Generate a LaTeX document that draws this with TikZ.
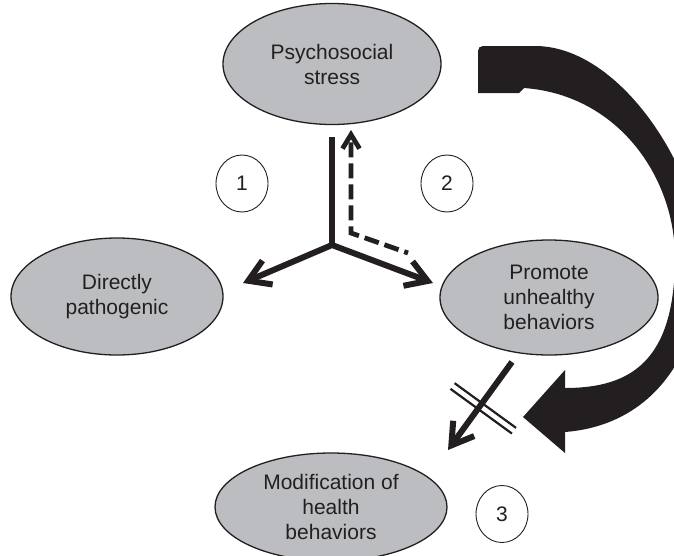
\documentclass[tikz,border=0pt]{standalone}
\usepackage{fontspec}
\setmainfont{Liberation Sans}
\usetikzlibrary{shapes.geometric,arrows.meta,calc}
\definecolor{ink}{HTML}{231F20}
\definecolor{bubble}{HTML}{BCBDC0}
\begin{document}
\begin{tikzpicture}[x=1pt,y=-1pt,
  factor/.style={ellipse,draw=ink,line width=1.3pt,fill=bubble,inner sep=0pt,
    align=center,text=ink,font=\fontsize{21}{25}\selectfont},
  pathnum/.style={ellipse,draw=ink,line width=0.9pt,fill=white,inner sep=0pt,
    minimum width=52pt,minimum height=57pt,text=ink,font=\fontsize{21}{25}\selectfont},
  barb/.tip={Straight Barb[sharp,length=21pt,width=26pt]},
  effect/.style={draw=ink,line width=6pt,-barb},
  stem/.style={draw=ink,line width=6pt},
  feedback/.style={draw=ink,line width=4.8pt,dash pattern=on 15pt off 6pt,
    dash phase=11pt,line join=miter,-{Straight Barb[sharp,length=14pt,width=17pt]}},
  blocker/.style={draw=ink,line width=2.2pt},
]
\useasboundingbox (0,0) rectangle (674,555);
\begin{scope}
\clip (0,0) rectangle (674,555);

% factors
\node[factor,minimum width=218pt,minimum height=121pt] (stress) at (332,64) {Psychosocial\\stress};
\node[factor,minimum width=212pt,minimum height=117pt] (direct) at (117,296.5) {Directly\\pathogenic};
\node[factor,minimum width=218pt,minimum height=115pt] (promote) at (549,297.5) {Promote\\unhealthy\\behaviors};
\node[factor,minimum width=232pt,minimum height=108pt] (modify) at (331,507) {Modification of\\health\\behaviors};

% pathway numbers
\node[pathnum] (n1) at (242,183.5) {1};
\node[pathnum] (n2) at (447,183.5) {2};
\node[pathnum] (n3) at (502,514) {3};

% three-way split below the stress node
\coordinate (top) at (332,137);
\coordinate (hub) at (332,245);
\coordinate (ltip) at (243,283);
\coordinate (rtip) at (433,283);
\draw[stem] (top) -- (hub);
\draw[effect,barb-barb] (ltip) -- (hub) -- (rtip);

% feedback from behaviours back to stress
\coordinate (fstart) at (408,253);
\coordinate (fcorner) at (351,233);
\coordinate (ftip) at (351,130);
\draw[feedback] (fstart) -- (fcorner) -- (ftip);

% blocked link to behaviour change
\coordinate (pstart) at (512,362);
\coordinate (mtip) at (448,450);
\draw[effect] (pstart) -- (mtip);
\coordinate (mid) at ($(pstart)!0.5!(mtip)$);
\coordinate (m1) at ($(mid)!3.5pt!(mtip)$);
\coordinate (m2) at ($(mid)!-3.5pt!(mtip)$);
\draw[blocker] ($(m1)!34pt!-90:(mtip)$) -- ($(m1)!42pt!90:(mtip)$);
\draw[blocker] ($(m2)!34pt!-90:(mtip)$) -- ($(m2)!42pt!90:(mtip)$);

% large curved arrow from stress around to behaviour change
\fill[ink] (524,88) -- (519,93) -- (478,93) -- (478,51)
  .. controls (478,48) and (480,46) .. (483,46) -- (537,46)
  .. controls (620,48) and (695,165) .. (702,250)
  .. controls (705,350) and (655,425) .. (565,432)
  -- (565,453) -- (523,417) -- (565,370) -- (565,388)
  .. controls (632,388) and (674,360) .. (675,260)
  .. controls (676,180) and (620,95) .. (524,88) -- cycle;
\end{scope}
\end{tikzpicture}
\end{document}
